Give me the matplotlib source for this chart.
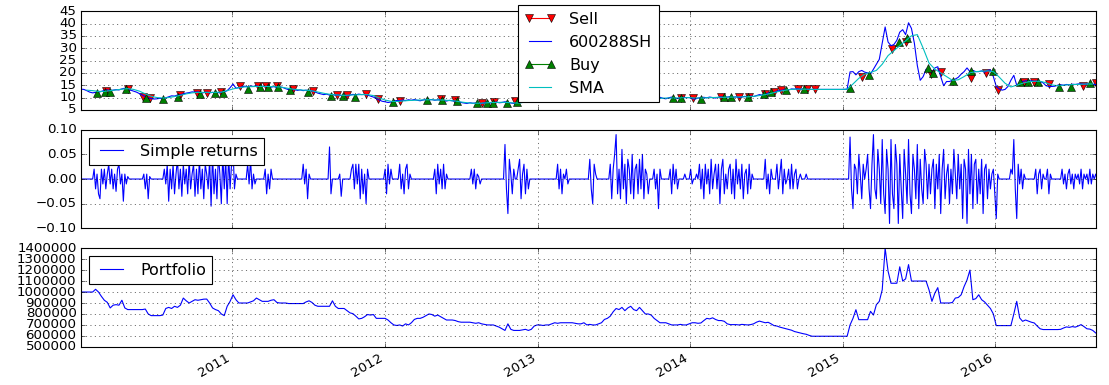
import pandas as pd
import matplotlib
matplotlib.use('Agg')
import matplotlib.pyplot as plt
import matplotlib.dates as mdates
from matplotlib.lines import Line2D

plt.style.use('classic')

# weekly close of 600288.SH, one list per year
price_2010 = [13.4, 13.3, 12.8, 12.2, 11.9, 12.1, 12.2, 12.5, 12.9, 13.1,
              12.8, 13.0, 13.2, 13.1, 13.5, 13.8, 13.4, 13.0, 12.6, 12.2,
              11.6, 11.0, 10.4, 9.9, 9.6, 9.4, 9.5, 9.7, 9.4, 9.9,
              10.3, 10.7, 10.6, 11.0, 11.1, 11.5, 11.8, 12.0, 12.3, 12.2,
              12.3, 11.8, 12.0, 12.2, 11.9, 12.1, 11.8, 12.0, 12.1, 12.3,
              12.8, 14.0]
price_2011 = [15.5, 13.8, 14.0, 14.3, 14.6, 14.4, 14.7, 14.5, 14.8, 14.3,
              14.6, 14.4, 14.7, 14.2, 14.5, 14.0, 14.3, 14.1, 13.6, 13.2,
              13.0, 13.3, 12.9, 13.1, 12.8, 13.0, 12.6, 12.8, 12.3, 11.8,
              11.5, 11.2, 11.4, 11.0, 11.3, 10.9, 11.1, 10.8, 11.0, 10.7,
              11.0, 11.3, 11.1, 11.4, 11.2, 11.3, 11.0, 10.6, 10.2, 9.6,
              9.0, 8.5]
price_2012 = [8.3, 8.0, 8.2, 8.6, 8.8, 8.7, 9.0, 8.8, 9.1, 8.9,
              9.2, 8.9, 8.7, 9.0, 9.3, 9.1, 9.2, 8.9, 9.1, 9.0,
              8.8, 8.6, 8.9, 8.7, 8.5, 8.3, 8.0, 7.8, 7.6, 7.9,
              7.7, 7.8, 7.5, 7.6, 7.9, 8.1, 7.8, 8.0, 8.2, 7.9,
              8.0, 8.3, 8.1, 7.8, 7.6, 7.7, 8.0, 8.4, 8.8, 9.0,
              9.3, 9.1]
price_2013 = [9.2, 9.5, 9.0, 9.4, 9.8, 9.3, 9.0, 8.7, 8.9, 9.1,
              8.8, 8.6, 8.9, 9.2, 9.0, 8.7, 8.5, 8.8, 9.1, 9.3,
              8.9, 8.6, 8.4, 8.8, 9.5, 9.9, 9.4, 9.0, 8.7, 9.2,
              9.6, 9.3, 9.0, 9.4, 9.8, 9.5, 9.2, 9.6, 10.0, 9.7,
              9.4, 9.8, 10.1, 9.7, 9.5, 9.9, 10.2, 9.8, 9.6, 9.9,
              10.1, 10.0]
price_2014 = [10.0, 9.6, 9.4, 9.8, 10.0, 10.1, 9.9, 10.2, 10.0, 9.8,
              10.1, 10.3, 10.0, 10.2, 10.4, 10.1, 10.3, 10.0, 10.2, 10.5,
              10.3, 10.6, 10.4, 10.8, 11.2, 11.0, 11.5, 11.8, 12.2, 12.0,
              12.6, 12.9, 13.0, 13.3, 13.1, 13.5, 13.4, 13.6, 13.3, 13.5,
              13.4, 13.3, 13.3, 13.3, 13.3, 13.3, 13.3, 13.3, 13.3, 13.3,
              13.3, 13.3]
price_2015 = [13.3, 13.3, 13.4, 20.4, 20.5, 19.2, 20.5, 21.0, 20.3, 20.0,
              19.5, 21.5, 23.5, 25.5, 32.0, 38.6, 32.5, 31.0, 31.5, 33.2,
              36.5, 37.5, 35.5, 40.3, 38.0, 32.0, 23.0, 17.0, 18.5, 21.5,
              21.0, 20.0, 22.0, 22.5, 18.5, 14.8, 16.5, 16.5, 17.0, 17.5,
              18.2, 19.5, 20.5, 22.0, 20.5, 21.0, 20.5, 20.5, 20.8, 20.3,
              21.0, 21.2]
price_2016 = [18.5, 14.5, 13.5, 13.0, 13.3, 14.5, 17.0, 19.0, 15.0, 15.8,
              16.5, 16.8, 16.7, 16.8, 16.6, 16.7, 16.5, 16.0, 14.8, 14.5,
              14.5, 14.6, 15.0, 15.2, 15.0, 15.3, 15.2, 15.4, 15.3, 15.5,
              15.6, 15.4, 15.6, 15.3, 15.4, 15.3]
price = price_2010 + price_2011 + price_2012 + price_2013 + price_2014 + price_2015 + price_2016

# moving average, sampled every two weeks from 2010-01-18
sma_2010 = [13.0, 12.8, 12.5, 12.5, 12.8, 13.1, 13.4, 13.6, 13.3, 12.6,
            11.5, 10.5, 10.0, 9.8, 10.0, 10.4, 10.9, 11.5, 11.9, 12.1,
            12.1, 12.1, 12.1, 12.2, 12.8]
sma_2011 = [13.5, 14.0, 14.3, 14.4, 14.5, 14.5, 14.5, 14.4, 14.3, 13.9,
            13.5, 13.2, 13.0, 12.9, 12.5, 12.0, 11.5, 11.2, 11.0, 10.9,
            11.0, 11.1, 11.2, 11.2, 10.8, 9.8]
sma_2012 = [9.0, 8.5, 8.4, 8.6, 8.8, 8.9, 9.0, 9.1, 9.1, 9.0,
            9.0, 8.8, 8.6, 8.2, 7.9, 7.7, 7.7, 7.8, 8.0, 8.0,
            8.1, 8.0, 7.8, 7.8, 8.2, 8.7]
sma_2013 = [9.1, 9.3, 9.4, 9.2, 8.9, 8.9, 8.8, 8.9, 8.8, 8.8,
            9.0, 8.8, 8.9, 9.3, 9.2, 9.1, 9.3, 9.5, 9.4, 9.6,
            9.6, 9.7, 9.8, 9.8, 9.8, 9.9]
sma_2014 = [10.0, 9.8, 9.8, 9.9, 10.0, 10.1, 10.1, 10.2, 10.2, 10.3,
            10.3, 10.5, 10.8, 11.2, 11.7, 12.3, 12.8, 13.2, 13.4, 13.4,
            13.4, 13.3, 13.3, 13.3, 13.3, 13.3]
sma_2015 = [13.3, 13.4, 15.5, 17.8, 19.5, 20.2, 21.0, 23.5, 27.0, 29.0,
            31.0, 33.0, 35.0, 35.5, 30.0, 24.0, 21.5, 20.0, 18.5, 17.0,
            17.2, 18.5, 20.0, 20.5, 20.7, 20.8]
sma_2016 = [20.5, 18.3, 15.8, 14.3, 15.0, 15.8, 16.4, 16.6, 16.6, 16.0,
            15.1, 14.8, 15.0, 15.2, 15.3, 15.4, 15.5, 15.5]
sma = sma_2010 + sma_2011 + sma_2012 + sma_2013 + sma_2014 + sma_2015 + sma_2016

buy_dates = ['2010-02-11', '2010-03-02', '2010-03-15', '2010-04-23', '2010-06-09',
             '2010-07-20', '2010-08-24', '2010-10-15', '2010-11-22', '2010-12-10',
             '2011-02-08', '2011-03-09', '2011-03-28', '2011-04-21', '2011-05-20',
             '2011-07-01', '2011-08-26', '2011-09-23', '2011-10-21', '2012-01-20',
             '2012-04-12', '2012-05-18', '2012-06-22', '2012-08-09', '2012-09-03',
             '2012-09-17', '2012-10-19', '2012-11-13', '2013-11-21', '2013-12-10',
             '2014-01-27', '2014-03-24', '2014-04-09', '2014-05-20', '2014-06-27',
             '2014-07-14', '2014-08-19', '2014-09-30', '2015-01-19', '2015-03-05',
             '2015-05-15', '2015-06-04', '2015-07-24', '2015-08-05', '2015-09-22',
             '2015-11-04', '2015-12-28', '2016-02-29', '2016-03-21', '2016-04-14',
             '2016-06-03', '2016-07-01', '2016-08-15']
buy_price = [12.0, 12.1, 12.4, 13.3, 9.8, 9.4, 10.4, 11.5, 11.7, 11.8,
             13.5, 14.3, 14.2, 14.2, 13.0, 12.2, 10.6, 10.5, 10.4, 8.2,
             8.9, 9.0, 8.8, 7.6, 7.6, 7.9, 7.9, 8.3, 9.8, 9.8,
             9.4, 10.2, 10.2, 10.2, 11.3, 12.3, 13.0, 13.3, 14.0, 19.1,
             32.5, 34.1, 22.0, 20.0, 16.7, 20.8, 20.8, 16.3, 16.3, 16.3,
             14.3, 14.3, 15.9]

sell_dates = ['2010-03-05', '2010-04-26', '2010-06-02', '2010-06-18', '2010-08-30',
              '2010-10-08', '2010-11-02', '2010-12-06', '2011-01-20', '2011-03-04',
              '2011-03-23', '2011-04-19', '2011-05-27', '2011-07-14', '2011-09-09',
              '2011-10-03', '2011-11-18', '2011-12-16', '2012-02-06', '2012-05-14',
              '2012-06-18', '2012-08-22', '2012-09-19', '2012-11-09', '2013-12-11',
              '2014-01-08', '2014-03-17', '2014-04-28', '2014-05-22', '2014-06-30',
              '2014-07-21', '2014-08-07', '2014-09-17', '2014-10-09', '2014-10-27',
              '2015-02-17', '2015-04-30', '2015-06-02', '2015-07-31', '2015-08-24',
              '2015-11-05', '2015-12-10', '2016-01-07', '2016-03-10', '2016-04-04',
              '2016-05-10', '2016-07-29', '2016-08-29']
sell_price = [12.6, 13.5, 10.4, 9.9, 11.0, 11.9, 11.8, 12.1, 14.5, 14.6,
              14.6, 14.5, 13.4, 12.6, 11.0, 10.9, 11.3, 9.4, 8.7, 9.3,
              8.9, 7.9, 8.1, 8.6, 10.0, 10.0, 10.4, 10.4, 10.4, 11.4,
              12.4, 12.9, 13.5, 13.5, 13.4, 18.3, 29.6, 32.5, 19.5, 20.4,
              17.8, 20.0, 13.1, 16.3, 16.3, 15.5, 14.7, 15.9]

# strategy simple returns, two readings per week
ret_2010 = [0, 0, 0, 0, 0, 0, 0, 0, 0, 0.02,
            -0.02, 0.01, -0.03, -0.04, 0.02, -0.01, 0.02, -0.02, 0.01, 0.03,
            -0.01, 0.02, -0.02, 0.01, -0.025, 0.02, 0.03, -0.01, 0.01, -0.045,
            0.01, -0.01, 0.005, 0, 0, 0, 0, 0, 0, 0,
            0, 0, 0, 0.01, -0.02, 0.01, -0.04, 0.005, 0, 0,
            0, 0, 0, 0, 0, 0, 0, 0.02, -0.01, 0.03,
            -0.045, 0.02, -0.02, 0.03, -0.03, 0.01, 0.04, -0.02, 0.02, -0.035,
            0.03, -0.01, 0.02, -0.03, 0.04, -0.02, 0.01, 0.03, -0.035, 0.02,
            -0.03, 0.04, -0.02, 0.02, -0.04, 0.03, 0.01, -0.02, 0.04, -0.055,
            0.05, -0.03, 0.02, -0.04, 0.05, 0.01, -0.05, 0.05, -0.02, 0.04,
            -0.05, 0.05, -0.02, 0.03]
ret_2011 = [0.06, -0.02, 0.01, 0, 0, 0, 0, 0, 0, 0,
            0.03, -0.01, 0.04, -0.02, 0.01, -0.01, 0, 0, 0, 0,
            0, 0, 0.02, -0.03, 0.01, -0.02, 0.02, 0, 0, 0,
            0, 0, 0, 0, 0, 0, 0, 0, 0, 0,
            0, 0, 0, 0, 0, 0, 0, 0, 0.03, -0.01,
            0.02, -0.04, 0.01, 0, 0, 0, 0, 0, 0, 0,
            0, 0, 0, 0, 0, 0, 0.065, -0.03, 0, 0,
            0, 0, 0, 0.01, -0.035, 0, 0, 0, 0, 0,
            0, 0.02, 0.03, -0.02, 0.03, -0.01, 0.03, -0.04, 0.02, -0.03,
            0.01, -0.05, 0.02, 0, 0, 0, 0, 0, 0, 0,
            0, 0, 0, 0]
ret_2012 = [0.02, -0.03, 0.03, -0.01, 0.02, 0, 0, 0, 0, 0,
            0.03, -0.02, 0.01, -0.03, 0.02, 0.03, -0.02, 0.01, 0, 0,
            0, 0, 0, 0, 0, 0, 0, 0, 0, 0,
            0, 0, 0, 0, 0.02, -0.03, 0.03, -0.01, 0.02, -0.02,
            0.03, -0.02, 0.01, 0, 0, 0, 0, 0, 0, 0,
            0, 0, 0, 0, 0, 0, 0, 0, 0, 0.02,
            -0.01, 0.02, -0.02, 0.01, 0.005, -0.01, 0, 0, 0, 0,
            0, 0, 0, 0, 0, 0, 0, 0, 0, 0,
            0, 0, 0.07, -0.02, -0.07, 0.04, 0.01, -0.03, 0.02, 0,
            0, 0.02, 0.04, -0.04, 0.01, 0.03, -0.03, 0.02, -0.02, 0,
            0, 0, 0, 0]
ret_2013 = [0, 0, 0, 0, 0, 0, 0, 0, 0, 0,
            0, 0, 0, 0, 0.03, -0.02, 0.02, -0.03, 0.01, 0,
            0.02, -0.01, 0, 0, 0, 0, 0, 0, 0, 0,
            0, 0, 0, 0, 0, 0, 0.04, -0.02, -0.05, 0.03,
            0.01, 0, 0, 0, 0, 0, 0, 0, 0, 0,
            0.03, -0.04, 0.02, 0.05, 0.09, -0.03, 0.02, -0.04, 0.06, -0.02,
            0.03, -0.05, 0.04, 0.02, -0.03, 0.05, -0.04, 0.02, 0.03, -0.03,
            0.04, -0.02, 0.05, -0.04, 0.02, 0.01, -0.03, 0, 0, 0,
            0.02, -0.02, 0.01, -0.06, 0.02, 0, 0, 0, 0, 0,
            0, 0.02, -0.03, 0.03, -0.01, 0.02, -0.02, 0, 0, 0,
            0, 0.01, 0, 0]
ret_2014 = [0, 0.02, -0.01, 0, 0, 0.01, 0, 0.03, -0.02, 0.02,
            -0.04, 0.03, -0.01, 0.02, -0.03, 0.04, -0.02, 0.01, 0.03, -0.02,
            0.03, -0.05, 0.02, 0.04, -0.03, 0.01, -0.02, 0.02, 0.03, -0.03,
            0.02, -0.04, 0.04, -0.01, 0.02, -0.02, 0.03, -0.04, 0.01, 0.02,
            -0.03, 0.03, -0.02, 0.01, 0, 0, 0, 0, 0, 0,
            0, 0, 0.04, -0.02, 0.01, -0.03, 0.02, 0, 0, 0,
            0.03, -0.02, 0.01, 0.04, -0.03, 0.02, -0.01, 0, 0.02, -0.02,
            0.03, -0.02, 0.01, 0.02, -0.02, 0, 0.01, 0, 0, 0,
            0.01, 0, 0, 0, 0, 0, 0, 0, 0, 0,
            0, 0, 0, 0, 0, 0, 0, 0, 0, 0,
            0, 0, 0, 0]
ret_2015 = [0, 0, 0, 0, 0, 0, 0.085, -0.02, -0.06, 0.03,
            0.02, -0.03, 0.05, 0.01, -0.04, 0.03, 0, 0.02, 0.05, -0.02,
            -0.06, 0.03, 0.09, -0.02, -0.04, 0.06, 0.02, -0.05, 0.08, -0.03,
            -0.07, 0.06, 0.02, -0.09, 0.08, -0.03, -0.06, 0.07, 0.03, -0.09,
            0.05, -0.02, -0.08, 0.06, 0.01, -0.05, 0.08, -0.03, -0.07, 0.05,
            0.02, -0.04, 0.07, -0.06, 0.04, -0.02, -0.05, 0.06, 0.03, -0.04,
            0.03, -0.03, 0.02, 0.04, -0.06, 0.03, -0.02, 0.05, -0.07, 0.02,
            0.06, -0.04, 0.01, 0.03, -0.05, 0.02, -0.03, 0.06, 0.01, -0.04,
            0.05, -0.02, 0.03, -0.08, 0.04, 0.02, -0.09, 0.06, -0.03, 0.05,
            -0.06, 0.03, 0.04, -0.05, 0.02, -0.03, 0.04, -0.07, 0.02, 0.03,
            -0.04, 0.02, -0.02, 0.01]
ret_2016 = [0.02, -0.03, -0.08, 0.01, 0, 0, 0, 0, 0, 0,
            0, 0, 0.02, 0.01, 0.08, -0.02, -0.08, 0.03, -0.01, 0.02,
            -0.02, 0.01, 0, 0, 0, 0, 0, 0, 0, 0.02,
            -0.03, 0.01, 0.02, -0.02, 0.01, 0, 0, 0.02, -0.03, 0.01,
            0, 0, 0, 0, 0, 0, 0, 0.02, -0.01, 0.01,
            -0.02, 0.01, 0.02, -0.01, 0.01, -0.02, 0.01, 0, 0.01, -0.01,
            0.02, -0.02, 0.01, 0, 0.01, -0.01, 0.02, -0.01, 0.01, 0,
            0.01, 0]
returns = ret_2010 + ret_2011 + ret_2012 + ret_2013 + ret_2014 + ret_2015 + ret_2016

# portfolio value, thousands
port_2010 = [1000, 1000, 1000, 1000, 1000, 1025, 1000, 960, 925, 906,
             855, 880, 885, 880, 925, 855, 840, 840, 840, 840,
             840, 840, 845, 800, 785, 785, 785, 785, 790, 850,
             860, 850, 870, 860, 880, 945, 920, 900, 915, 930,
             925, 930, 935, 936, 900, 855, 840, 830, 800, 785,
             870, 915]
port_2011 = [975, 930, 900, 900, 900, 900, 910, 920, 945, 930,
             915, 915, 915, 925, 930, 905, 900, 900, 900, 895,
             895, 895, 895, 895, 895, 910, 920, 905, 880, 870,
             870, 870, 870, 870, 920, 870, 850, 850, 850, 830,
             810, 803, 780, 755, 760, 775, 795, 790, 795, 760,
             760, 760]
port_2012 = [760, 745, 720, 700, 695, 700, 690, 710, 700, 720,
             750, 760, 760, 770, 785, 800, 795, 780, 790, 775,
             760, 745, 745, 745, 740, 730, 725, 725, 725, 725,
             720, 715, 720, 710, 705, 700, 700, 700, 690, 680,
             665, 650, 710, 660, 650, 650, 650, 655, 660, 650,
             660, 690]
port_2013 = [700, 700, 695, 700, 700, 710, 720, 715, 720, 720,
             720, 720, 720, 715, 710, 710, 720, 700, 705, 700,
             700, 710, 720, 750, 760, 780, 820, 850, 840, 860,
             830, 855, 870, 840, 830, 860, 830, 800, 800, 790,
             760, 740, 720, 720, 720, 710, 700, 700, 700, 705,
             700, 700]
port_2014 = [710, 720, 720, 715, 718, 740, 760, 755, 765, 750,
             740, 740, 733, 710, 703, 703, 703, 700, 705, 703,
             700, 703, 710, 725, 735, 728, 720, 724, 710, 694,
             690, 680, 673, 665, 660, 652, 640, 633, 625, 620,
             615, 605, 597, 597, 597, 597, 597, 597, 597, 597,
             597, 597]
port_2015 = [597, 597, 597, 700, 760, 839, 748, 748, 748, 748,
             824, 790, 885, 915, 1020, 1400, 1190, 1080, 1080, 1080,
             1230, 1100, 1120, 1250, 1100, 1100, 1100, 1100, 1100, 1100,
             1020, 915, 990, 1040, 900, 900, 900, 900, 905, 945,
             950, 975, 1050, 1110, 1200, 930, 940, 975, 930, 910,
             880, 850]
port_2016 = [800, 694, 694, 694, 694, 694, 694, 800, 915, 764,
             733, 745, 735, 725, 718, 690, 665, 658, 658, 658,
             658, 658, 658, 660, 672, 682, 678, 685, 680, 690,
             703, 685, 665, 662, 650, 627]
portfolio_k = port_2010 + port_2011 + port_2012 + port_2013 + port_2014 + port_2015 + port_2016

week_idx = pd.date_range('2010-01-04', periods=len(price), freq='7D')
half_week_idx = pd.date_range('2010-01-04', periods=len(returns), freq='84h')
sma_idx = pd.date_range('2010-01-18', periods=len(sma), freq='14D')
portfolio = [v * 1000 for v in portfolio_k]

fig, (ax1, ax2, ax3) = plt.subplots(3, 1, sharex=True, figsize=(1109 / 80, 385 / 80), dpi=80)

ax1.plot(pd.to_datetime(sell_dates), sell_price, 'v', color='r', ms=8, mec='k', mew=0.5)
ax1.plot(week_idx, price, color='b')
ax1.plot(pd.to_datetime(buy_dates), buy_price, '^', color='g', ms=8, mec='k', mew=0.5)
ax1.plot(sma_idx, sma, color='c')
handles = [Line2D([], [], color='r', marker='v', ms=8, mec='k', mew=0.5),
           Line2D([], [], color='b'),
           Line2D([], [], color='g', marker='^', ms=8, mec='k', mew=0.5),
           Line2D([], [], color='c')]
ax1.legend(handles, ['Sell', '600288SH', 'Buy', 'SMA'], loc='upper center',
           bbox_to_anchor=(0.5, 1.06), borderaxespad=0)
ax1.set_ylim(5, 45)
ax1.set_yticks(range(5, 46, 5))
ax1.grid(True)

ax2.plot(half_week_idx, returns, color='b', label='Simple returns')
ax2.set_ylim(-0.1, 0.1)
ax2.set_yticks([-0.1, -0.05, 0, 0.05, 0.1])
ax2.legend(loc='upper left')
ax2.grid(True)

ax3.plot(week_idx, portfolio, color='b', label='Portfolio')
ax3.set_ylim(500000, 1400000)
ax3.set_yticks(range(500000, 1400001, 100000))
ax3.legend(loc='upper left')
ax3.grid(True)

ax3.set_xlim(week_idx[0], week_idx[-1])
ax3.xaxis.set_major_locator(mdates.YearLocator())
ax3.xaxis.set_major_formatter(mdates.DateFormatter('%Y'))
fig.autofmt_xdate()
fig.subplots_adjust(left=0.073, right=0.988, top=0.971, bottom=0.099, hspace=0.2)

fig.savefig('out.png', dpi=80)
